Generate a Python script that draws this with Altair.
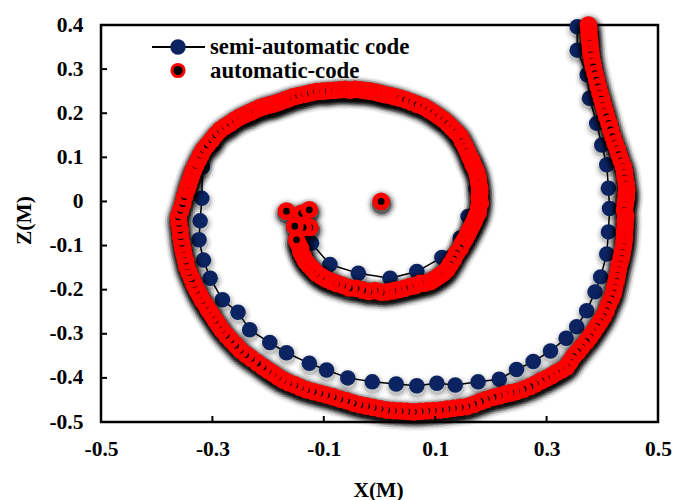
import altair as alt
import pandas as pd

# ---- semi-automatic code: path points, from the inner end outwards ----
semi_x = [-0.139, -0.122, -0.089, -0.038, 0.019, 0.067, 0.112, 0.145, 0.159,
          0.173, 0.164, 0.141, 0.107, 0.062, 0.012, -0.040, -0.092, -0.143,
          -0.189, -0.233, -0.270, -0.298, -0.318,
          -0.319, -0.322, -0.324, -0.316, -0.304, -0.282, -0.254, -0.233,
          -0.197, -0.167, -0.126, -0.095, -0.057, -0.013, 0.030, 0.067,
          0.103, 0.136, 0.177, 0.215, 0.246, 0.276, 0.307, 0.335, 0.354,
          0.372, 0.387, 0.397, 0.408, 0.411, 0.413, 0.411, 0.408, 0.399,
          0.390, 0.377, 0.373, 0.355, 0.355]
semi_z = [-0.056, -0.095, -0.143, -0.163, -0.174, -0.159, -0.127, -0.083, -0.034,
          0.030, 0.094, 0.145, 0.190, 0.222, 0.240, 0.247, 0.246, 0.236,
          0.216, 0.195, 0.168, 0.128, 0.078,
          0.007, -0.044, -0.087, -0.133, -0.174, -0.223, -0.251, -0.291,
          -0.320, -0.343, -0.367, -0.382, -0.400, -0.409, -0.414, -0.418,
          -0.412, -0.416, -0.409, -0.403, -0.381, -0.363, -0.339, -0.310, -0.284,
          -0.248, -0.205, -0.171, -0.119, -0.069, -0.016, 0.030, 0.083, 0.128,
          0.177, 0.234, 0.287, 0.343, 0.396]

# ---- automatic code: dense point cloud, listed from the centre outwards ----
auto_start = [(0.003, 0.000), (-0.167, -0.022), (-0.126, -0.019), (-0.140, -0.027),
              (-0.152, -0.056), (-0.137, -0.059), (-0.125, -0.059)]

auto_inner = [(-0.149, -0.087), (-0.146, -0.096), (-0.142, -0.106), (-0.141, -0.115),
              (-0.137, -0.125), (-0.133, -0.135), (-0.127, -0.144), (-0.120, -0.153),
              (-0.113, -0.163), (-0.104, -0.170), (-0.096, -0.176), (-0.087, -0.181),
              (-0.077, -0.186), (-0.066, -0.190), (-0.054, -0.196), (-0.042, -0.197),
              (-0.030, -0.201), (-0.019, -0.204), (-0.008, -0.202), (0.003, -0.206),
              (0.013, -0.205), (0.024, -0.203), (0.034, -0.200), (0.045, -0.197),
              (0.055, -0.193), (0.064, -0.191), (0.073, -0.186), (0.082, -0.185),
              (0.091, -0.182), (0.099, -0.176), (0.107, -0.169), (0.114, -0.163),
              (0.121, -0.155), (0.127, -0.143), (0.133, -0.131), (0.138, -0.118),
              (0.145, -0.106), (0.149, -0.095), (0.154, -0.085), (0.158, -0.075),
              (0.162, -0.065), (0.166, -0.055), (0.170, -0.045), (0.173, -0.035),
              (0.177, -0.026), (0.178, -0.014), (0.181, -0.003), (0.179, 0.008),
              (0.180, 0.019), (0.180, 0.030), (0.178, 0.042), (0.177, 0.053),
              (0.175, 0.064), (0.172, 0.074), (0.168, 0.083), (0.166, 0.092),
              (0.162, 0.101)]

auto_top = [(0.158, 0.113), (0.154, 0.124), (0.149, 0.136), (0.145, 0.147),
            (0.138, 0.157), (0.131, 0.166), (0.123, 0.176), (0.115, 0.185),
            (0.106, 0.193), (0.097, 0.201), (0.088, 0.208), (0.079, 0.215),
            (0.068, 0.220), (0.058, 0.225), (0.047, 0.230), (0.037, 0.234),
            (0.028, 0.237), (0.019, 0.240), (0.010, 0.242), (0.001, 0.245),
            (-0.008, 0.248), (-0.017, 0.250), (-0.026, 0.251), (-0.035, 0.253),
            (-0.044, 0.254), (-0.053, 0.252), (-0.062, 0.254), (-0.071, 0.253),
            (-0.081, 0.252), (-0.092, 0.251), (-0.102, 0.250), (-0.113, 0.249),
            (-0.124, 0.246), (-0.134, 0.243), (-0.145, 0.240), (-0.155, 0.237),
            (-0.163, 0.233), (-0.170, 0.230), (-0.178, 0.226), (-0.185, 0.223),
            (-0.193, 0.220), (-0.200, 0.218), (-0.208, 0.215), (-0.215, 0.212),
            (-0.224, 0.207), (-0.232, 0.202), (-0.241, 0.197), (-0.250, 0.192),
            (-0.259, 0.185), (-0.268, 0.177), (-0.277, 0.170), (-0.286, 0.162),
            (-0.294, 0.151), (-0.301, 0.140), (-0.309, 0.128), (-0.316, 0.117),
            (-0.321, 0.105), (-0.325, 0.094), (-0.330, 0.082), (-0.334, 0.071)]

auto_outer = [(-0.337, 0.060), (-0.340, 0.049), (-0.343, 0.037), (-0.346, 0.026),
              (-0.350, 0.011), (-0.353, -0.005), (-0.357, -0.020), (-0.361, -0.035),
              (-0.360, -0.050), (-0.358, -0.065), (-0.357, -0.080), (-0.355, -0.095),
              (-0.353, -0.108), (-0.351, -0.121), (-0.348, -0.135), (-0.346, -0.148),
              (-0.342, -0.161), (-0.337, -0.175), (-0.333, -0.188), (-0.328, -0.201),
              (-0.323, -0.212), (-0.318, -0.224), (-0.312, -0.235), (-0.307, -0.246),
              (-0.301, -0.257), (-0.295, -0.269), (-0.289, -0.280), (-0.283, -0.291),
              (-0.275, -0.303), (-0.267, -0.314), (-0.258, -0.326), (-0.250, -0.337),
              (-0.240, -0.347), (-0.230, -0.356), (-0.219, -0.366), (-0.209, -0.375),
              (-0.200, -0.383), (-0.191, -0.390), (-0.182, -0.398), (-0.173, -0.405),
              (-0.163, -0.411), (-0.152, -0.416), (-0.142, -0.422), (-0.131, -0.427),
              (-0.119, -0.431), (-0.107, -0.435), (-0.095, -0.439), (-0.083, -0.443),
              (-0.071, -0.448), (-0.059, -0.452), (-0.047, -0.457), (-0.035, -0.461),
              (-0.023, -0.464), (-0.011, -0.467), (0.001, -0.470), (0.013, -0.473),
              (0.025, -0.474), (0.037, -0.475), (0.049, -0.476), (0.061, -0.477),
              (0.073, -0.476), (0.085, -0.475), (0.097, -0.474), (0.109, -0.473),
              (0.121, -0.471), (0.133, -0.469), (0.145, -0.467), (0.157, -0.465),
              (0.169, -0.460), (0.181, -0.454), (0.192, -0.449), (0.204, -0.444),
              (0.215, -0.441), (0.225, -0.437), (0.236, -0.434), (0.246, -0.431),
              (0.258, -0.426), (0.270, -0.420)]

auto_tail = [(0.280, -0.414), (0.290, -0.407), (0.300, -0.401), (0.309, -0.395),
             (0.318, -0.388), (0.327, -0.382), (0.336, -0.375), (0.342, -0.364),
             (0.348, -0.352), (0.356, -0.341), (0.363, -0.330), (0.371, -0.318),
             (0.378, -0.307), (0.384, -0.296), (0.390, -0.284), (0.396, -0.273),
             (0.402, -0.261), (0.407, -0.248), (0.411, -0.234), (0.416, -0.221),
             (0.420, -0.208), (0.422, -0.195), (0.425, -0.181), (0.427, -0.168),
             (0.429, -0.155), (0.431, -0.142), (0.434, -0.129), (0.436, -0.116),
             (0.438, -0.103), (0.439, -0.091), (0.440, -0.080), (0.440, -0.068),
             (0.441, -0.057), (0.441, -0.045), (0.442, -0.033), (0.440, -0.020),
             (0.441, -0.008), (0.442, 0.001), (0.443, 0.009), (0.443, 0.018),
             (0.444, 0.026), (0.443, 0.039), (0.441, 0.053), (0.440, 0.066),
             (0.438, 0.079), (0.434, 0.092), (0.430, 0.106), (0.427, 0.119),
             (0.423, 0.132), (0.419, 0.147), (0.415, 0.162), (0.412, 0.177),
             (0.408, 0.192), (0.405, 0.205), (0.402, 0.218), (0.399, 0.232),
             (0.396, 0.245), (0.393, 0.260), (0.390, 0.275), (0.387, 0.290),
             (0.384, 0.305), (0.382, 0.318), (0.380, 0.332), (0.379, 0.345),
             (0.378, 0.358), (0.377, 0.369), (0.376, 0.379), (0.376, 0.390),
             (0.375, 0.400)]

z_ticks = [0.4, 0.3, 0.2, 0.1, 0.0, -0.1, -0.2, -0.3, -0.4, -0.5]
x_ticks = [-0.5, -0.3, -0.1, 0.1, 0.3, 0.5]
legend_labels = ["semi-automatic code", "automatic-code"]

# ---- tables ----
semi = pd.DataFrame({"x": semi_x, "z": semi_z, "i": range(len(semi_x))})
auto_pts = auto_start + auto_inner + auto_top + auto_outer + auto_tail
auto = pd.DataFrame(auto_pts, columns=["x", "z"])
auto = auto.iloc[::-1].reset_index(drop=True)   # the inner points end up on top
zt = pd.DataFrame({"z": z_ticks})
xt = pd.DataFrame({"x": [v for v in x_ticks if abs(v) < 0.5]})

W, H = 557, 397
FONT = "Liberation Serif"
NAVY = "#0b2461"
RED = "#ff0000"

xs = alt.Scale(domain=[-0.5, 0.5], nice=False, zero=False)
zs = alt.Scale(domain=[-0.5, 0.4], nice=False, zero=False)
lab = "datum.value == 0 ? '0' : (datum.value < 0 ? '-' : '') + format(abs(datum.value), '.1f')"

x_axis = alt.Axis(values=x_ticks, labelExpr=lab, title="X(M)", grid=False, domain=False,
                  ticks=False, tickSize=0, labelPadding=16, labelFont=FONT,
                  labelFontWeight="bold", labelFontSize=21.5, labelColor="black",
                  titleFont=FONT, titleFontWeight="bold", titleFontSize=21.5,
                  titleColor="black", titleX=277, titleY=68, titleBaseline="middle",
                  titleAlign="center", labelFlush=False, labelOverlap=False)
z_axis = alt.Axis(values=z_ticks, labelExpr=lab, title="Z(M)", grid=False, domain=False,
                  ticks=False, tickSize=0, labelPadding=18, labelFont=FONT,
                  labelFontWeight="bold", labelFontSize=21.5, labelColor="black",
                  titleFont=FONT, titleFontWeight="bold", titleFontSize=21.5,
                  titleColor="black", titleX=-77, titleY=195, titleAngle=270,
                  titleBaseline="middle", titleAlign="center", labelFlush=False,
                  labelOverlap=False)

X = alt.X("x:Q", scale=xs, axis=x_axis)
Z = alt.Y("z:Q", scale=zs, axis=z_axis)


def glow(df, d, dy, steps):
    """Soft drop shadow built from stacked translucent discs."""
    out = []
    for extra, a in steps:
        out.append(alt.Chart(df).mark_circle(color="black", opacity=a, size=(d + extra) ** 2,
                                             yOffset=dy, xOffset=0.5)
                   .encode(x=X, y=Z))
    return out


semi_glow = glow(semi, 15, 3, [(11, 0.04), (7, 0.07), (3, 0.14)])
semi_line = alt.Chart(semi).mark_line(color="black", strokeWidth=1.5).encode(
    x=X, y=Z, order="i:Q")
semi_pts = alt.Chart(semi).mark_circle(color=NAVY, opacity=1, size=240).encode(x=X, y=Z)

auto_glow = glow(auto, 17, 3, [(16, 0.04), (11, 0.1), (7, 0.22), (3, 0.45)])
auto_pts_layer = alt.Chart(auto).mark_point(
    shape="circle", filled=True, fill="black", stroke=RED, strokeWidth=5.5,
    opacity=1, size=150).encode(x=X, y=Z)

# inward ticks on the left and bottom frame lines
z_tick_marks = alt.Chart(zt).mark_rule(color="black", strokeWidth=2).encode(
    y=Z, x=alt.value(0), x2=alt.value(6))
x_tick_marks = alt.Chart(xt).mark_rule(color="black", strokeWidth=2).encode(
    x=X, y=alt.value(H), y2=alt.value(H - 6))

# legend drawn in the upper-left corner of the plot
one = pd.DataFrame({"a": [0]})
leg_line = alt.Chart(one).mark_rule(color="black", strokeWidth=2).encode(
    x=alt.value(51), x2=alt.value(104), y=alt.value(22))
leg_semi = alt.Chart(one).mark_circle(color=NAVY, opacity=1, size=240).encode(
    x=alt.value(77), y=alt.value(22))
leg_auto = alt.Chart(one).mark_point(
    shape="circle", filled=True, fill="black", stroke=RED, strokeWidth=3,
    opacity=1, size=150).encode(x=alt.value(77), y=alt.value(45.5))
leg_t1 = alt.Chart(pd.DataFrame({"t": [legend_labels[0]]})).mark_text(
    align="left", baseline="middle", font=FONT, fontWeight="bold", fontSize=22.8,
    color="black").encode(x=alt.value(109), y=alt.value(21.5), text="t:N")
leg_t2 = alt.Chart(pd.DataFrame({"t": [legend_labels[1]]})).mark_text(
    align="left", baseline="middle", font=FONT, fontWeight="bold", fontSize=22.8,
    color="black").encode(x=alt.value(109), y=alt.value(45.5), text="t:N")

chart = alt.layer(
    *semi_glow, semi_line, semi_pts, *auto_glow, auto_pts_layer,
    z_tick_marks, x_tick_marks,
    leg_line, leg_semi, leg_auto, leg_t1, leg_t2,
).properties(
    width=W, height=H,
    autosize=alt.AutoSizeParams(type="none"),
    padding={"left": 101, "top": 25, "right": 18, "bottom": 78},
    background="white",
).configure_view(
    stroke="black", strokeWidth=2.5
)

chart.save("out.html", embed_options={"renderer": "svg", "actions": False})
